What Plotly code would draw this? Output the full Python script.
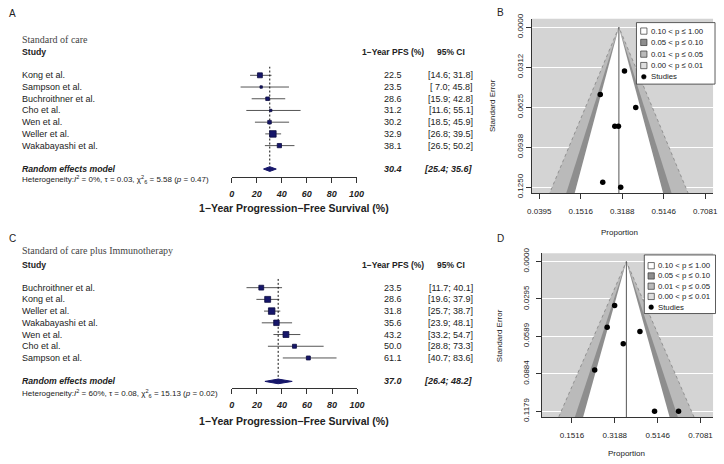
import numpy as np
import plotly.graph_objects as go

# ---------------- DATA ----------------
# Panel A / B : Standard of care
soc_studies = ["Kong et al.", "Sampson et al.", "Buchroithner et al.", "Cho et al.",
               "Wen et al.", "Weller et al.", "Wakabayashi et al."]
soc_pfs = [22.5, 23.5, 28.6, 31.2, 30.2, 32.9, 38.1]
soc_lo = [14.6, 7.0, 15.9, 11.6, 18.5, 26.8, 26.5]
soc_hi = [31.8, 45.8, 42.8, 55.1, 45.9, 39.5, 50.2]
soc_se = [0.0526, 0.1210, 0.0774, 0.1250, 0.0774, 0.0343, 0.0627]   # funnel SE (arcsine scale)
soc_re = [30.4, 25.4, 35.6]          # estimate, lower, upper
soc_i2, soc_tau, soc_chi2, soc_df, soc_p = 0, 0.03, 5.58, 6, 0.47

# Panel C / D : Standard of care plus Immunotherapy
imm_studies = ["Buchroithner et al.", "Kong et al.", "Weller et al.", "Wakabayashi et al.",
               "Wen et al.", "Cho et al.", "Sampson et al."]
imm_pfs = [23.5, 28.6, 31.8, 35.6, 43.2, 50.0, 61.1]
imm_lo = [11.7, 19.6, 25.7, 23.9, 33.2, 28.8, 40.7]
imm_hi = [40.1, 37.9, 38.7, 48.1, 54.7, 73.3, 83.6]
imm_se = [0.0854, 0.0518, 0.0346, 0.0648, 0.0551, 0.1179, 0.1179]
imm_re = [37.0, 26.4, 48.2]
imm_i2, imm_tau, imm_chi2, imm_df, imm_p = 60, 0.08, 15.13, 6, 0.02

forest_ticks = [0, 20, 40, 60, 80, 100]
funnel_x_labels = ["0.0395", "0.1516", "0.3188", "0.5146", "0.7081"]
soc_se_ticks = [0.0, 0.0312, 0.0625, 0.0938, 0.1250]
imm_se_ticks = [0.0, 0.0295, 0.0589, 0.0884, 0.1179]
contour_z = [1.645, 1.96, 2.576]
legend_labels = ["0.10 < p \u2264 1.00", "0.05 < p \u2264 0.10",
                 "0.01 < p \u2264 0.05", "0.00 < p \u2264 0.01"]

# ---------------- STYLE ----------------
W, H = 724, 464
def PX(x): return x / W
def PY(y): return 1 - y / H

SANS = "Liberation Sans, Arial, sans-serif"
SERIF = "Liberation Serif, Times New Roman, serif"
TXT = "#222222"
NAVY = "#16166a"
BG = "#d4d4d4"
MID = "#bababa"
DARK = "#8e8e8e"
LEG_LIGHT = "#dedede"

fig = go.Figure()
annotations = []
shapes = []

def ann(text, x, y, xref="paper", yref="paper", size=9, xanchor="left",
        yanchor="middle", family=SANS, color=TXT, angle=0):
    annotations.append(dict(text=text, x=x, y=y, xref=xref, yref=yref,
                            showarrow=False, xanchor=xanchor, yanchor=yanchor,
                            textangle=angle, borderpad=0,
                            font=dict(family=family, size=size, color=color)))

def add_forest(k, title, studies, pfs, lo, hi, se, tau, re, het,
               dom_x, dom_y, yrange, y_title, y_head, y_het, y_axtitle):
    xa, ya = f"x{k}", f"y{k}"
    yref = "y" if k == 1 else f"y{k}"
    rows = list(range(len(studies)))
    re_row = len(studies) + 1
    xs, ys = [], []
    for r, l, h in zip(rows, lo, hi):
        xs += [l, h, None]
        ys += [r, r, None]
    fig.add_trace(go.Scatter(x=xs, y=ys, mode="lines", line=dict(color="#555", width=1),
                             xaxis=xa, yaxis=ya, hoverinfo="skip"))
    fig.add_trace(go.Scatter(x=[re[0], re[0]], y=[yrange[1], re_row - 0.2], mode="lines",
                             line=dict(color="#111", width=1, dash="2px,2px"),
                             xaxis=xa, yaxis=ya, hoverinfo="skip"))
    w = 1.0 / (np.array(se) ** 2 + tau ** 2)
    sizes = 6.5 * np.sqrt(w / w.max())
    fig.add_trace(go.Scatter(x=pfs, y=rows, mode="markers",
                             marker=dict(symbol="square", size=sizes, color=NAVY,
                                         opacity=1, line=dict(width=0.8, color="#0c0c40")),
                             xaxis=xa, yaxis=ya, hoverinfo="skip"))
    fig.add_trace(go.Scatter(x=[re[1], re[0], re[2], re[0], re[1]],
                             y=[re_row, re_row - 0.2, re_row, re_row + 0.2, re_row],
                             mode="lines", fill="toself", fillcolor=NAVY,
                             line=dict(color=NAVY, width=1),
                             xaxis=xa, yaxis=ya, hoverinfo="skip"))
    key = "" if k == 1 else str(k)
    fig.layout["xaxis" + key] = dict(domain=dom_x, range=[0, 100], anchor=yref,
                                     tickvals=forest_ticks, showgrid=False, zeroline=False,
                                     showline=True, linecolor="#333", linewidth=1,
                                     ticks="outside", ticklen=5, tickcolor="#333",
                                     ticklabelstandoff=3,
                                     tickfont=dict(family=SANS, size=9, color=TXT,
                                                   weight="bold", style="italic"))
    fig.layout["yaxis" + key] = dict(domain=dom_y, range=yrange, visible=False,
                                     anchor="x" if k == 1 else f"x{k}")
    ann(title, PX(16), PY(y_title), size=10, family=SERIF, color="#444")
    ann("<b>Study</b>", PX(16), PY(y_head), size=8.7)
    ann("<b>1\u2212Year PFS (%)</b>", PX(395), PY(y_head), size=8.5, xanchor="center")
    ann("<b>95% CI</b>", PX(454.5), PY(y_head), size=8.5, xanchor="center")
    for r, s, v, l, h in zip(rows, studies, pfs, lo, hi):
        ann(s, PX(16), r, yref=yref, size=9)
        ann(f"{v:.1f}", PX(395), r, yref=yref, size=9, xanchor="center")
        ann(f"[{l:4.1f}; {h:.1f}]", PX(477.5), r, yref=yref, size=9, xanchor="right")
    ann("<b><i>Random effects model</i></b>", PX(16), re_row, yref=yref, size=8.7)
    ann(f"<b><i>{re[0]:.1f}</i></b>", PX(395), re_row, yref=yref, size=9, xanchor="center")
    ann(f"<b><i>[{re[1]:.1f}; {re[2]:.1f}]</i></b>", PX(477.5), re_row, yref=yref, size=9,
        xanchor="right")
    ann(het, PX(16), PY(y_het), size=8)
    ann("<b>1\u2212Year Progression\u2212Free Survival (%)</b>", PX(294.5), PY(y_axtitle),
        size=10.5, xanchor="center")


def add_funnel(k, props, se, center_pct, se_ticks, dom_x, dom_y, xrange, yrange,
               ystandoff):
    xa, ya = f"x{k}", f"y{k}"
    c = np.arcsin(np.sqrt(center_pct / 100.0))
    ybot = 0.3
    shapes.append(dict(type="rect", xref=f"{xa} domain", yref=f"{ya} domain",
                       x0=0, x1=1, y0=0, y1=1, fillcolor=BG, line=dict(width=0),
                       layer="below"))
    for z, col in zip(contour_z[::-1], [MID, DARK, "white"]):
        fig.add_trace(go.Scatter(x=[c - z * ybot, c, c + z * ybot], y=[ybot, 0, ybot],
                                 mode="lines", fill="toself", fillcolor=col,
                                 line=dict(width=0), xaxis=xa, yaxis=ya, hoverinfo="skip"))
    zo = contour_z[-1]
    fig.add_trace(go.Scatter(x=[c - zo * ybot, c, c + zo * ybot], y=[ybot, 0, ybot],
                             mode="lines", line=dict(color="#7a7a7a", width=0.7, dash="dot"),
                             xaxis=xa, yaxis=ya, hoverinfo="skip"))
    fig.add_trace(go.Scatter(x=[c, c], y=[0, ybot], mode="lines",
                             line=dict(color="#555", width=1),
                             xaxis=xa, yaxis=ya, hoverinfo="skip"))
    xt = np.arcsin(np.sqrt(np.array(props) / 100.0))
    fig.add_trace(go.Scatter(x=xt, y=se, mode="markers",
                             marker=dict(symbol="circle", size=5.5, color="black"),
                             xaxis=xa, yaxis=ya, hoverinfo="skip"))
    tickvals = np.arcsin(np.sqrt([float(t) for t in funnel_x_labels]))
    fig.layout[f"xaxis{k}"] = dict(domain=dom_x, range=xrange, anchor=ya,
                                   tickvals=tickvals, ticktext=funnel_x_labels,
                                   showgrid=False, zeroline=False, showline=True,
                                   linecolor="#333", linewidth=1, ticks="outside",
                                   ticklen=5, tickcolor="#333", ticklabelstandoff=5,
                                   tickfont=dict(family=SANS, size=8, color=TXT))
    fig.layout[f"yaxis{k}"] = dict(domain=dom_y, range=yrange, anchor=xa,
                                   tickvals=se_ticks, ticktext=[f"{v:.4f}" for v in se_ticks],
                                   tickangle=-90, showgrid=True, gridcolor="white",
                                   gridwidth=1.2, zeroline=False, showline=True,
                                   linecolor="#333", linewidth=1, ticks="outside",
                                   ticklen=5, tickcolor="#333", ticklabelstandoff=ystandoff,
                                   tickfont=dict(family=SANS, size=8, color=TXT))


def add_legend(box, swatch_x, text_x, rows_y, size):
    x0, y0, x1, y1 = box
    shapes.append(dict(type="rect", xref="paper", yref="paper", x0=PX(x0), x1=PX(x1),
                       y0=PY(y1), y1=PY(y0), fillcolor="white",
                       line=dict(color="#333", width=0.8), layer="above"))
    for i, (lab, col) in enumerate(zip(legend_labels, ["white", DARK, MID, LEG_LIGHT])):
        yy = rows_y[i]
        shapes.append(dict(type="rect", xref="paper", yref="paper",
                           x0=PX(swatch_x - 3.2), x1=PX(swatch_x + 3.2),
                           y0=PY(yy + 3.2), y1=PY(yy - 3.2), fillcolor=col,
                           line=dict(color="#333", width=0.7), layer="above"))
        ann(lab, PX(text_x), PY(yy), size=size)
    yy = rows_y[4]
    shapes.append(dict(type="circle", xref="paper", yref="paper",
                       x0=PX(swatch_x - 2.4), x1=PX(swatch_x + 2.4),
                       y0=PY(yy + 2.4), y1=PY(yy - 2.4), fillcolor="black",
                       line=dict(color="black", width=0.5), layer="above"))
    ann("Studies", PX(text_x), PY(yy), size=size)


het_a = (f"Heterogeneity:<i>I</i><sup>2</sup> = {soc_i2}%, \u03c4 = {soc_tau:.2f}, "
         f"\u03c7<sup>2</sup><sub>{soc_df}</sub> = {soc_chi2:.2f} (<i>p</i> = {soc_p:.2f})")
het_c = (f"Heterogeneity:<i>I</i><sup>2</sup> = {imm_i2}%, \u03c4 = {imm_tau:.2f}, "
         f"\u03c7<sup>2</sup><sub>{imm_df}</sub> = {imm_chi2:.2f} (<i>p</i> = {imm_p:.2f})")

# Forest A: row 0 at y=71px, 12 px per row, axis line at 175px
add_forest(1, "Standard of care", soc_studies, soc_pfs, soc_lo, soc_hi, soc_se, soc_tau,
           soc_re, het_a, [PX(231), PX(358)], [PY(175), PY(62)], [8.667, -0.75],
           34, 47, 177.5, 207)
# Forest C: row 0 at y=288.5px
add_forest(2, "Standard of care plus Immunotherapy", imm_studies, imm_pfs, imm_lo, imm_hi,
           imm_se, imm_tau, imm_re, het_c, [PX(231), PX(358.5)], [PY(391), PY(279.5)],
           [8.54, -0.75], 250, 265, 396.7, 425)

# Funnel B
add_funnel(3, soc_pfs, soc_se, soc_re[0], soc_se_ticks, [PX(536.7), PX(721)],
           [PY(191.7), PY(13)], [0.1654, 0.2 + (721 - 544) / 211.25], [0.12957, -0.00663], 0)
# Funnel D
add_funnel(4, imm_pfs, imm_se, imm_re[0], imm_se_ticks, [PX(546.7), PX(721)],
           [PY(421), PY(253.3)], [0.2598, 0.4 + (721 - 577.3) / 218.3], [0.12254, -0.00646], 4)

add_legend((643, 17, 723, 80), 650.5, 656.5, [25.7, 37.3, 49.3, 61.0, 72.5], 7.8)
add_legend((651, 255, 723.5, 315), 658, 663.5, [266, 276.5, 287, 297.5, 308.5], 7.8)

ann("Standard Error", PX(497), (PY(191.7) + PY(13)) / 2, size=8, xanchor="center", angle=-90)
ann("Standard Error", PX(503), (PY(421) + PY(253.3)) / 2, size=8, xanchor="center", angle=-90)
ann("Proportion", PX(626), PY(231.5), size=8, xanchor="center")
ann("Proportion", PX(633), PY(458), size=8, xanchor="center")

for lab, x, y in [("A", 3, 8), ("B", 500, 7), ("C", 3, 238), ("D", 500, 238)]:
    ann(lab, PX(x), PY(y), size=10)

fig.update_layout(width=W, height=H, margin=dict(l=0, r=0, t=0, b=0),
                  paper_bgcolor="white", plot_bgcolor="white", showlegend=False,
                  annotations=annotations, shapes=shapes,
                  font=dict(family=SANS, color=TXT))
fig.write_html("out.html", config={"displayModeBar": False},
               post_script="document.body.style.margin='0';document.body.style.overflow='hidden';")
